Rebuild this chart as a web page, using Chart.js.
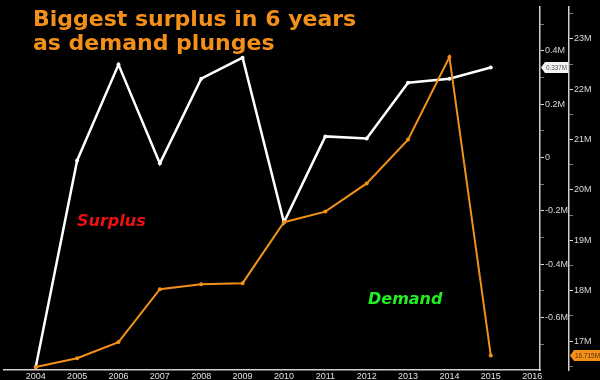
<!DOCTYPE html>
<html>
<head>
<meta charset="utf-8">
<script src="https://cdn.jsdelivr.net/npm/chart.js@4.4.0/dist/chart.umd.min.js"></script>
<style>
  html, body { margin: 0; padding: 0; background: #000; }
  #wrap { width: 600px; height: 380px; }
</style>
</head>
<body>
<div id="wrap"><canvas id="surplusChart"></canvas></div>
<script>
'use strict'
// ---- data ----
var years = [2004, 2005, 2006, 2007, 2008, 2009, 2010, 2011, 2012, 2013, 2014, 2015];
var surplus = [-0.785, -0.011, 0.348, -0.022, 0.295, 0.374, -0.243, 0.079, 0.071, 0.280, 0.295, 0.337];   // M
var demand = [16.485, 16.66, 16.98, 18.03, 18.13, 18.15, 19.36, 19.57, 20.13, 21.0, 22.64, 16.715];      // M
var yearTicks = [2004, 2005, 2006, 2007, 2008, 2009, 2010, 2011, 2012, 2013, 2014, 2015, 2016];
var surplusTicks = [-0.7, -0.6, -0.5, -0.4, -0.3, -0.2, -0.1, 0, 0.1, 0.2, 0.3, 0.4, 0.5];
var surplusMajor = [-0.6, -0.4, -0.2, 0, 0.2, 0.4];
var demandTicks = [16.5, 17, 17.5, 18, 18.5, 19, 19.5, 20, 20.5, 21, 21.5, 22, 22.5, 23, 23.5];
var demandMajor = [17, 18, 19, 20, 21, 22, 23];

var ORANGE = '#f39019';
var AXIS = '#d0d0d0';
var tickFont = { family: 'Liberation Sans', size: 9 };

function isIn(list, v) {
	return list.some(function(m) { return Math.abs(m - v) < 1e-6; });
}
function pts(vals) {
	return vals.map(function(v, i) { return { x: years[i], y: v }; });
}

/*----overlay: title, series names, last-value badges----*/
var overlay = {
	id: 'overlay',
	afterDraw: function(chart) {
		var c = chart.ctx, s = chart.scales;
		c.save();
		c.fillStyle = ORANGE;
		c.font = 'bold 22px "DejaVu Sans"';
		c.textBaseline = 'alphabetic';
		c.fillText('Biggest surplus in 6 years', 33, 26);
		c.fillText('as demand plunges', 33, 50);

		c.font = 'italic bold 16px "DejaVu Sans"';
		c.fillStyle = '#ee1111';
		c.fillText('Surplus', 77, 226);
		c.fillStyle = '#22ee22';
		c.fillText('Demand', 368, 304);

		function badge(scale, val, txt, bg, fg, w) {
			var x = scale.left + 1, y = scale.getPixelForValue(val);
			c.font = '8px "Liberation Sans"';
			c.fillStyle = bg;
			c.beginPath();
			c.moveTo(x, y);
			c.lineTo(x + 4, y - 5.5);
			c.lineTo(x + w, y - 5.5);
			c.lineTo(x + w, y + 5.5);
			c.lineTo(x + 4, y + 5.5);
			c.closePath();
			c.fill();
			c.fillStyle = fg;
			c.textBaseline = 'middle';
			c.fillText(txt, x + 5, y + 0.5, w - 6);
		}
		badge(s.ySurplus, surplus[surplus.length - 1], surplus[surplus.length - 1].toFixed(3) + 'M', '#f4f4f4', '#555', 27);
		badge(s.yDemand, demand[demand.length - 1], demand[demand.length - 1].toFixed(3) + 'M', ORANGE, '#5a3000', 31);
		c.restore();
	}
};

var chart = new Chart(document.getElementById('surplusChart'), {
	type: 'line',
	data: {
		datasets: [{
			label: 'Demand',
			data: pts(demand),
			yAxisID: 'yDemand',
			borderColor: ORANGE,
			backgroundColor: ORANGE,
			borderWidth: 2,
			pointRadius: 2,
			pointBorderWidth: 0,
			tension: 0
		}, {
			label: 'Surplus',
			data: pts(surplus),
			yAxisID: 'ySurplus',
			borderColor: '#ffffff',
			backgroundColor: '#ffffff',
			borderWidth: 2.5,
			pointRadius: 2,
			pointBorderWidth: 0,
			tension: 0
		}]
	},
	options: {
		responsive: true,
		maintainAspectRatio: false,
		animation: false,
		layout: { padding: 0 },
		plugins: { legend: { display: false }, tooltip: { enabled: false } },
		scales: {
			x: {
				type: 'linear',
				min: 2003.232,
				max: 2016.19,
				afterBuildTicks: function(scale) {
					scale.ticks = yearTicks.map(function(v) { return { value: v }; });
				},
				afterFit: function(scale) { scale.height = 10; },
				border: { display: true, color: AXIS, width: 1.5 },
				grid: { display: false, drawTicks: false },
				ticks: {
					color: '#e0e0e0',
					font: tickFont,
					padding: 1,
					maxRotation: 0,
					autoSkip: false,
					callback: function(v) { return String(v); }
				}
			},
			ySurplus: {
				position: 'right',
				min: -0.796,
				max: 0.566,
				afterBuildTicks: function(scale) {
					scale.ticks = surplusTicks.map(function(v) { return { value: v }; });
				},
				afterFit: function(scale) { scale.width = 29; },
				border: { display: true, color: AXIS, width: 1.5 },
				grid: {
					drawOnChartArea: false,
					tickLength: 4,
					tickColor: function(ctx) { return isIn(surplusMajor, ctx.tick.value) ? '#ddd' : '#777'; }
				},
				ticks: {
					color: '#d8d8d8',
					font: tickFont,
					padding: 1,
					autoSkip: false,
					callback: function(v) {
						if (!isIn(surplusMajor, v)) return '';
						return Math.abs(v) < 1e-6 ? '0' : (Math.round(v * 10) / 10) + 'M';
					}
				}
			},
			yDemand: {
				position: 'right',
				min: 16.426,
				max: 23.644,
				afterBuildTicks: function(scale) {
					scale.ticks = demandTicks.map(function(v) { return { value: v }; });
				},
				afterFit: function(scale) { scale.width = 31; },
				border: { display: true, color: AXIS, width: 1.5 },
				grid: {
					drawOnChartArea: false,
					tickLength: 4,
					tickColor: function(ctx) { return isIn(demandMajor, ctx.tick.value) ? '#ddd' : '#777'; }
				},
				ticks: {
					color: '#d8d8d8',
					font: tickFont,
					padding: 1,
					autoSkip: false,
					callback: function(v) { return isIn(demandMajor, v) ? v + 'M' : ''; }
				}
			}
		}
	},
	plugins: [overlay]
});
</script>
</body>
</html>
